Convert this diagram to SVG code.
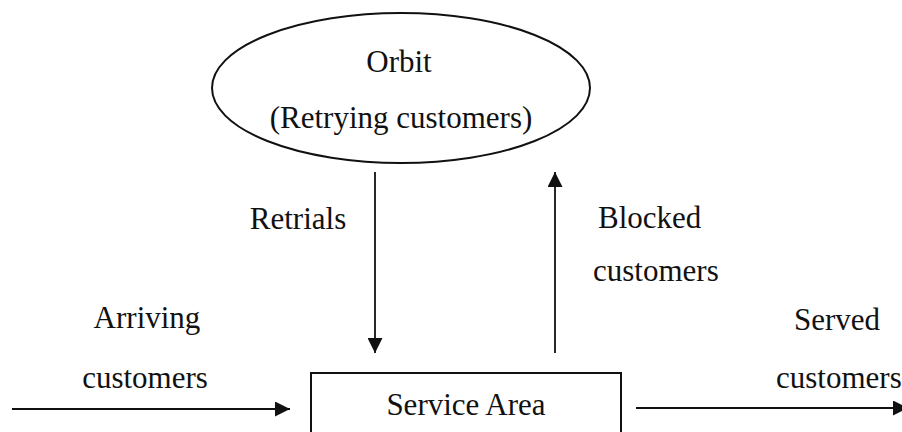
<svg xmlns="http://www.w3.org/2000/svg" width="902" height="432" viewBox="0 0 902 432">
  <defs>
    <marker id="arrow" viewBox="0 0 10 10" refX="10" refY="5" markerWidth="15" markerHeight="15" markerUnits="userSpaceOnUse" orient="auto">
      <path d="M0,0 L10,5 L0,10 Z" fill="#111"/>
    </marker>
    <style>
      .label { font-family: "Liberation Serif", "Times New Roman", serif; font-size: 31px; fill: #111; }
      .shape { fill: none; stroke: #111; stroke-width: 2; }
      .link { fill: none; stroke: #111; stroke-width: 1.8; marker-end: url(#arrow); }
    </style>
  </defs>
  <rect width="902" height="432" fill="#fff"/>

  <!-- Orbit node -->
  <g id="orbit">
    <ellipse class="shape" cx="401" cy="88" rx="189" ry="75"/>
    <text class="label" x="399" y="72" text-anchor="middle">Orbit</text>
    <text class="label" x="401" y="128" text-anchor="middle">(Retrying customers)</text>
  </g>

  <!-- Service area node -->
  <g id="service-area">
    <rect class="shape" x="311" y="373" width="310" height="70"/>
    <text class="label" x="466" y="415" text-anchor="middle">Service Area</text>
  </g>

  <!-- Connectors -->
  <g id="connectors">
    <line class="link" x1="375" y1="172" x2="375" y2="353"/>
    <line class="link" x1="555" y1="353" x2="555" y2="172"/>
    <line class="link" x1="12" y1="409" x2="290" y2="409"/>
    <line class="link" x1="636" y1="408" x2="908" y2="408"/>
  </g>

  <!-- Connector labels -->
  <g id="labels">
    <text class="label" x="298" y="229" text-anchor="middle">Retrials</text>
    <text class="label" x="598" y="228">Blocked</text>
    <text class="label" x="593" y="281">customers</text>
    <text class="label" x="147" y="328" text-anchor="middle">Arriving</text>
    <text class="label" x="145" y="388" text-anchor="middle">customers</text>
    <text class="label" x="837" y="330" text-anchor="middle">Served</text>
    <text class="label" x="776" y="388">customers</text>
  </g>
</svg>
